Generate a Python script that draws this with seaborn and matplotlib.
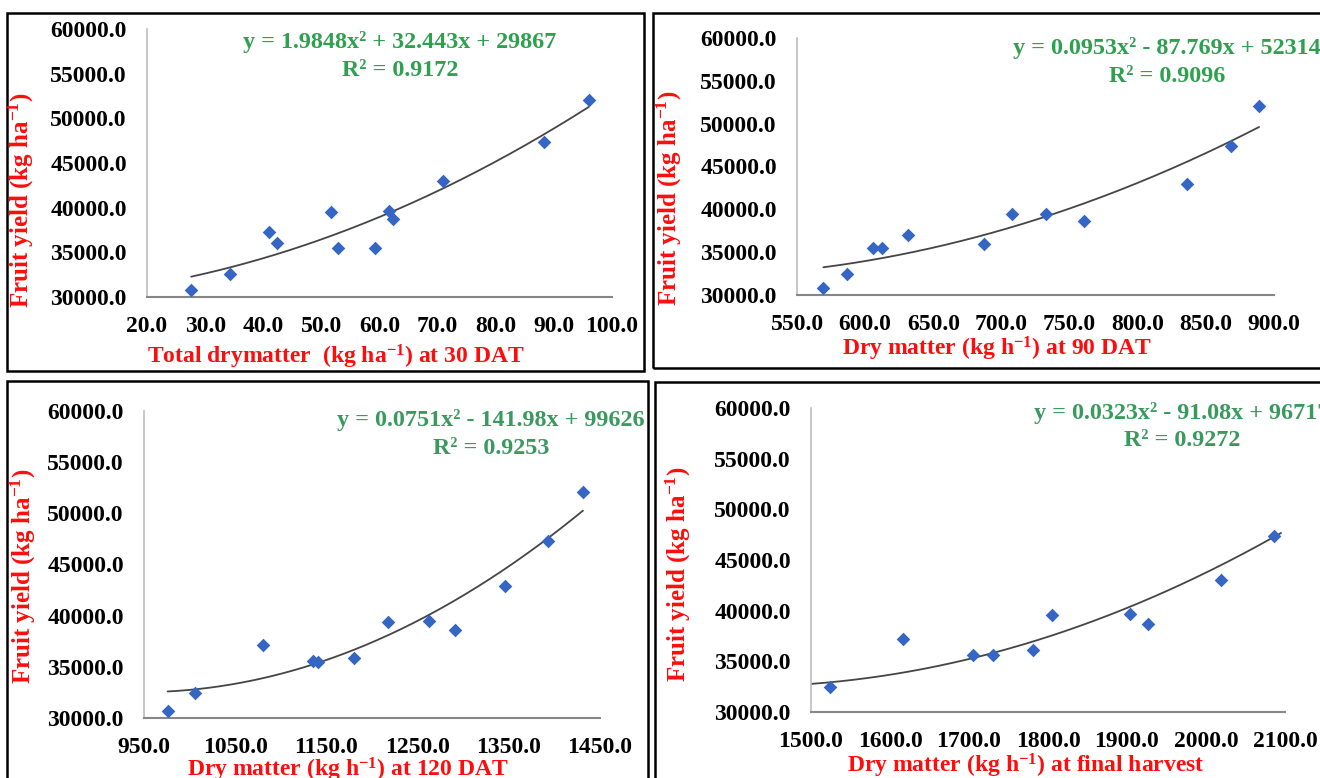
import numpy as np
import pandas as pd
import seaborn as sns
import matplotlib.pyplot as plt
from matplotlib.patches import Rectangle
from matplotlib.ticker import FormatStrFormatter, FixedLocator

# data
dm_30 = [27.6, 34.2, 41.0, 42.4, 51.6, 52.9, 59.3, 61.6, 62.3, 70.9, 88.3, 96.0]
yield_30 = [30800, 32600, 37300, 36000, 39500, 35500, 35500, 39600, 38700, 43000, 47400, 52100]

dm_90 = [569.4, 586.4, 606.1, 612.7, 631.2, 686.9, 707.9, 732.7, 760.3, 836.4, 868.1, 889.1]
yield_90 = [30800, 32400, 35500, 35500, 37000, 36000, 39400, 39500, 38600, 43000, 47400, 52100]

dm_120 = [975.9, 1006.4, 1081.0, 1135.6, 1140.6, 1180.7, 1218.0, 1263.0, 1290.8, 1345.8, 1392.7, 1431.3]
yield_120 = [30700, 32400, 37100, 35600, 35500, 35900, 39400, 39500, 38600, 42900, 47300, 52100]

dm_fh = [1523.8, 1616.9, 1705.6, 1730.5, 1781.4, 1804.7, 1903.7, 1926.4, 2019.0, 2086.6]
yield_fh = [32500, 37200, 35600, 35600, 36100, 39600, 39700, 38700, 43000, 47400]

# trendline coefficients as printed on each panel
coef_30 = [1.9848, 32.443, 29867]
coef_90 = [0.0953, -87.769, 52314]
coef_120 = [0.0751, -141.98, 99626]
coef_fh = [0.0323, -91.08, 96717]

eq_texts = ['y = 1.9848x² + 32.443x + 29867', 'y = 0.0953x² - 87.769x + 52314',
            'y = 0.0751x² - 141.98x + 99626', 'y = 0.0323x² - 91.08x + 96717']
r2_texts = ['R² = 0.9172', 'R² = 0.9096', 'R² = 0.9253', 'R² = 0.9272']
xlabels = [r'Total drymatter  (kg ha$^{-1}$) at 30 DAT', r'Dry matter (kg h$^{-1}$) at 90 DAT',
           r'Dry matter (kg h$^{-1}$) at 120 DAT', r'Dry matter (kg h$^{-1}$) at final harvest']
ylabel = r'Fruit yield (kg ha$^{-1}$)'
yticks = [30000, 35000, 40000, 45000, 50000, 55000, 60000]

sns.set_theme(style='white')
plt.rcParams['font.family'] = ['Liberation Serif', 'DejaVu Serif']
plt.rcParams['font.weight'] = 'bold'
plt.rcParams['mathtext.fontset'] = 'custom'
plt.rcParams['mathtext.rm'] = 'Liberation Serif:bold'
plt.rcParams['mathtext.it'] = 'Liberation Serif:bold'
plt.rcParams['mathtext.bf'] = 'Liberation Serif:bold'

W, H = 1320, 778
fig = plt.figure(figsize=(W / 100, H / 100), dpi=100)

RED = '#FF0D0D'
BLUE = '#3566C4'


def px_axes(left, top, right, bottom):
    return fig.add_axes([left / W, 1 - bottom / H, (right - left) / W, (bottom - top) / H])


def ftext(x, y, s, **kw):
    return fig.text(x / W, 1 - y / H, s, **kw)


# boxes around each panel
for l, t, r, b in [(7, 13, 644, 371), (653, 13, 1330, 368), (7, 381, 648, 800), (655, 382, 1330, 800)]:
    fig.add_artist(Rectangle((l / W, 1 - b / H), (r - l) / W, (b - t) / H, transform=fig.transFigure,
                             fill=False, edgecolor='black', linewidth=1.8))

panels = [
    dict(box=(147, 29, 612, 297), x=dm_30, y=yield_30, coef=coef_30, xlim=(20, 100), step=10,
         span=(min(dm_30), max(dm_30)), eq=(400, 42, 71), xl=(336, 357), yl=(21, 200), green='#2EA04F'),
    dict(box=(797, 38, 1274, 295), x=dm_90, y=yield_90, coef=coef_90, xlim=(550, 900), step=50,
         span=(min(dm_90), max(dm_90)), eq=(1167, 48, 77), xl=(997, 349), yl=(669, 198), green='#2EA04F'),
    dict(box=(144, 411, 600, 718), x=dm_120, y=yield_120, coef=coef_120, xlim=(950, 1450), step=100,
         span=(min(dm_120), max(dm_120)), eq=(491, 420, 448), xl=(348, 770), yl=(23, 576), green='#3A9A5E'),
    dict(box=(811, 408, 1285, 712), x=dm_fh, y=yield_fh, coef=coef_fh, xlim=(1500, 2100), step=100,
         span=(1500, 2095), eq=(1182, 413, 441), xl=(1026, 766), yl=(678, 574), green='#3A9A5E'),
]

for i, p in enumerate(panels):
    ax = px_axes(*p['box'])
    df = pd.DataFrame({'dm': p['x'], 'fy': p['y']})

    # polynomial trendline (order 2) from the printed equation
    xs = np.linspace(p['span'][0], p['span'][1], 200)
    trend = pd.DataFrame({'dm': xs, 'fy': np.polyval(p['coef'], xs)})
    sns.lineplot(data=trend, x='dm', y='fy', color='#454545', linewidth=1.3, ax=ax)
    sns.scatterplot(data=df, x='dm', y='fy', marker='D', s=48, color=BLUE, edgecolor=BLUE,
                    linewidth=0, ax=ax, zorder=3)

    ax.set_xlim(*p['xlim'])
    ax.set_ylim(30000, 60000)
    ax.xaxis.set_major_locator(FixedLocator(np.arange(p['xlim'][0], p['xlim'][1] + 1, p['step'])))
    ax.yaxis.set_major_locator(FixedLocator(yticks))
    ax.xaxis.set_major_formatter(FormatStrFormatter('%.1f'))
    ax.yaxis.set_major_formatter(FormatStrFormatter('%.1f'))
    ax.set_xlabel('')
    ax.set_ylabel('')
    sns.despine(ax=ax)
    ax.spines['left'].set_color('#BFBFBF')
    ax.spines['bottom'].set_color('#868686')
    ax.spines['left'].set_linewidth(1.2)
    ax.spines['bottom'].set_linewidth(1.5)
    ax.tick_params(axis='x', direction='out', length=6, width=1.3, color='#868686', pad=8,
                   labelsize=17, labelcolor='black')
    ax.tick_params(axis='y', direction='out', length=6, width=1.0, color='#BFBFBF', pad=8.5,
                   labelsize=17, labelcolor='black')
    ax.patch.set_alpha(0)

    cx, y1, y2 = p['eq']
    ftext(cx, y1, eq_texts[i], ha='center', va='center', color=p['green'], fontsize=17.4, fontweight='bold')
    ftext(cx, y2, r2_texts[i], ha='center', va='center', color=p['green'], fontsize=17.4, fontweight='bold')
    ftext(p['xl'][0], p['xl'][1], xlabels[i], ha='center', va='center', color=RED, fontsize=17,
          fontweight='bold')
    ftext(p['yl'][0], p['yl'][1], ylabel, ha='center', va='center', rotation=90, color=RED,
          fontsize=18, fontweight='bold')

fig.savefig('out.png', dpi=100, facecolor='white')
